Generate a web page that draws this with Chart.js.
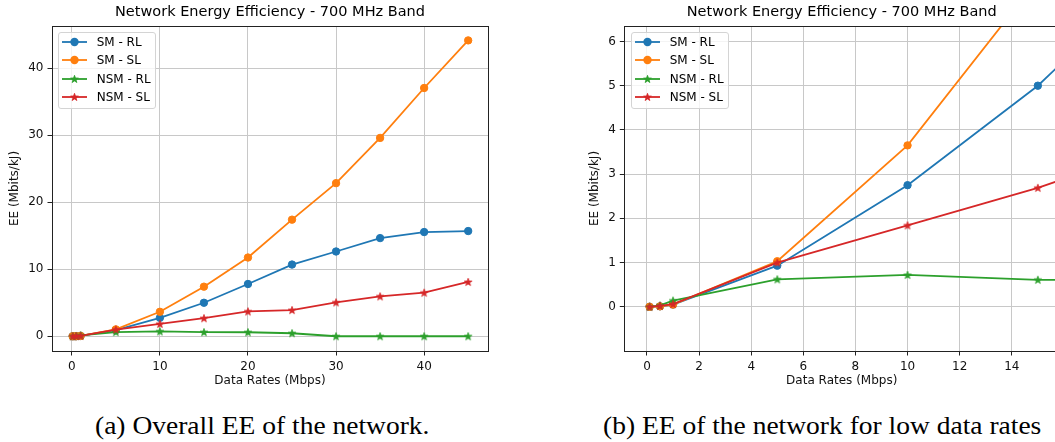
<!DOCTYPE html>
<html>
<head>
<meta charset="utf-8">
<script src="https://cdn.jsdelivr.net/npm/chart.js@4.4.1/dist/chart.umd.min.js"></script>
<style>
  body { margin: 0; width: 1055px; height: 442px; overflow: hidden; background: #fff; position: relative; font-family: "DejaVu Sans", sans-serif; }
  .panel { position: absolute; top: 0; }
  .legend { position: absolute; top: 32px; width: 98px; height: 77px; box-sizing: border-box; border: 1px solid #d4d4d4; border-radius: 3px; background: rgba(255,255,255,0.8); }
  .row { position: absolute; left: 0; width: 96px; height: 18px; font-size: 12px; color: #000; }
  .row svg { position: absolute; left: 3px; top: 0; }
  .row span { position: absolute; left: 37.7px; top: 0; line-height: 18px; white-space: nowrap; }
  .caption { position: absolute; top: 413px; font-family: "Liberation Serif", serif; font-size: 25px; line-height: 25px; transform: scaleX(1.1); transform-origin: left; white-space: nowrap; color: #000; }
</style>
</head>
<body>
<div class="panel" style="left:0"><canvas id="overall" width="500" height="390"></canvas></div>
<div class="panel" style="left:580px"><canvas id="lowRates" width="485" height="390"></canvas></div>
<div class="legend" id="legendA" style="left:58px"></div>
<div class="legend" id="legendB" style="left:631px"></div>
<div class="caption" style="left:95px">(a) Overall EE of the network.</div>
<div class="caption" style="left:603px">(b) EE of the network for low data rates</div>

<script>
// data
const rates = [0.1, 0.5, 1, 5, 10, 15, 20, 25, 30, 35, 40, 45];
const smRL  = [0, 0.01, 0.05, 0.93, 2.75, 5.0, 7.8, 10.7, 12.65, 14.65, 15.55, 15.7];
const smSL  = [0, 0.01, 0.05, 1.03, 3.65, 7.4, 11.75, 17.4, 22.85, 29.6, 37.05, 44.15];
const nsmRL = [0, 0.03, 0.14, 0.62, 0.72, 0.61, 0.6, 0.45, 0, 0, 0, 0];
const nsmSL = [0, 0.02, 0.06, 1.0, 1.84, 2.69, 3.7, 3.9, 5.05, 5.95, 6.5, 8.1];

const seriesNames = ['SM - RL', 'SM - SL', 'NSM - RL', 'NSM - SL'];
const seriesColors = ['#1f77b4', '#ff7f0e', '#2ca02c', '#d62728'];
const seriesMarkers = ['circle', 'circle', 'star', 'star'];

const overallXTicks = [0, 10, 20, 30, 40];
const overallYTicks = [0, 10, 20, 30, 40];
const lowXTicks = [0, 2, 4, 6, 8, 10, 12, 14];
const lowYTicks = [0, 1, 2, 3, 4, 5, 6];

const chartTitle = 'Network Energy Efficiency - 700 MHz Band';
const xTitle = 'Data Rates (Mbps)';
const yTitle = 'EE (Mbits/kJ)';

function starPoints(cx, cy, outer, inner) {
    const pts = [];
    for (let i = 0; i < 10; i++) {
        const r = i % 2 ? inner : outer;
        const a = -Math.PI / 2 + i * Math.PI / 5;
        pts.push([cx + r * Math.cos(a), cy + r * Math.sin(a)]);
    }
    return pts;
}

function starImage(color) {
    const c = document.createElement('canvas');
    c.width = 12; c.height = 12;
    const g = c.getContext('2d');
    g.beginPath();
    starPoints(6, 6.3, 4.0, 1.6).forEach(p => g.lineTo(p[0], p[1]));
    g.closePath();
    g.fillStyle = color;
    g.fill();
    g.strokeStyle = color;
    g.lineWidth = 0.8;
    g.stroke();
    return c;
}

function buildDatasets() {
    const values = [smRL, smSL, nsmRL, nsmSL];
    return values.map((vals, i) => ({
        label: seriesNames[i],
        data: rates.map((r, j) => ({ x: r, y: vals[j] })),
        borderColor: seriesColors[i],
        backgroundColor: seriesColors[i],
        borderWidth: 1.8,
        pointStyle: seriesMarkers[i] === 'star' ? starImage(seriesColors[i]) : 'circle',
        pointRadius: 3.7,
        pointHoverRadius: 3.7,
        pointBorderWidth: 1,
        tension: 0,
        order: 3 - i
    }));
}

// matplotlib-like box around the plot area
const frame = {
    id: 'frame',
    afterDraw(chart) {
        const { ctx, chartArea: a } = chart;
        ctx.save();
        ctx.strokeStyle = '#222';
        ctx.lineWidth = 1;
        ctx.strokeRect(Math.round(a.left) + 0.5, Math.round(a.top) + 0.5,
            Math.round(a.right - a.left), Math.round(a.bottom - a.top));
        ctx.restore();
    }
};

const labelFont = { family: 'DejaVu Sans', size: 12 };

function axis(min, max, ticks, title, isX, fitSize) {
    return {
        type: 'linear',
        min: min,
        max: max,
        afterBuildTicks: a => { a.ticks = ticks.map(v => ({ value: v })); },
        afterFit: s => { if (isX) s.height = fitSize; else s.width = fitSize; },
        grid: { color: '#c8c8c8', lineWidth: 1, drawTicks: true, tickLength: 4.5, tickColor: '#222', tickWidth: 1 },
        border: { display: false },
        ticks: { font: labelFont, color: '#111', padding: 4, maxRotation: 0, autoSkip: false, callback: v => String(v) },
        title: { display: true, text: title, font: labelFont, color: '#111',
                 padding: isX ? { top: 0, bottom: 1.8 } : { top: 7.8, bottom: 0 } }
    };
}

function makeChart(id, x, y, yWidth, padRight) {
    const ctx = document.getElementById(id).getContext('2d');
    return new Chart(ctx, {
        type: 'line',
        data: { datasets: buildDatasets() },
        options: {
            responsive: false,
            devicePixelRatio: 1,
            animation: false,
            events: [],
            layout: { padding: { left: 0, right: padRight, top: 0, bottom: 0 } },
            scales: {
                x: axis(x[0], x[1], x[2], xTitle, true, 39),
                y: axis(y[0], y[1], y[2], yTitle, false, yWidth)
            },
            plugins: {
                legend: { display: false },
                tooltip: { enabled: false },
                title: {
                    display: true,
                    text: chartTitle,
                    fullSize: false,
                    color: '#000',
                    font: { family: 'DejaVu Sans', size: 14.5, weight: 'normal' },
                    padding: { top: 4, bottom: 4.6 }
                }
            }
        },
        plugins: [frame]
    });
}

function buildLegend(id) {
    const box = document.getElementById(id);
    const centers = [9, 27.3, 46, 64.3];
    seriesNames.forEach((name, i) => {
        const row = document.createElement('div');
        row.className = 'row';
        row.style.top = (centers[i] - 9) + 'px';
        const col = seriesColors[i];
        let marker;
        if (seriesMarkers[i] === 'circle') {
            marker = `<circle cx="12.5" cy="9" r="4.2" fill="${col}"/>`;
        } else {
            const pts = starPoints(12.5, 9.3, 4.0, 1.6).map(p => p.join(',')).join(' ');
            marker = `<polygon points="${pts}" fill="${col}" stroke="${col}" stroke-width="0.8"/>`;
        }
        row.innerHTML = `<svg width="26" height="18"><line x1="0" y1="9" x2="25" y2="9" stroke="${col}" stroke-width="1.8"/>${marker}</svg><span>${name}</span>`;
        box.appendChild(row);
    });
}

makeChart('overall', [-2.25, 47.25, overallXTicks], [-2.2, 46.3, overallYTicks], 52, 12);
makeChart('lowRates', [-0.87, 15.82, lowXTicks], [-1.0, 6.35, lowYTicks], 44.3, 5.8);
buildLegend('legendA');
buildLegend('legendB');
</script>
</body>
</html>
